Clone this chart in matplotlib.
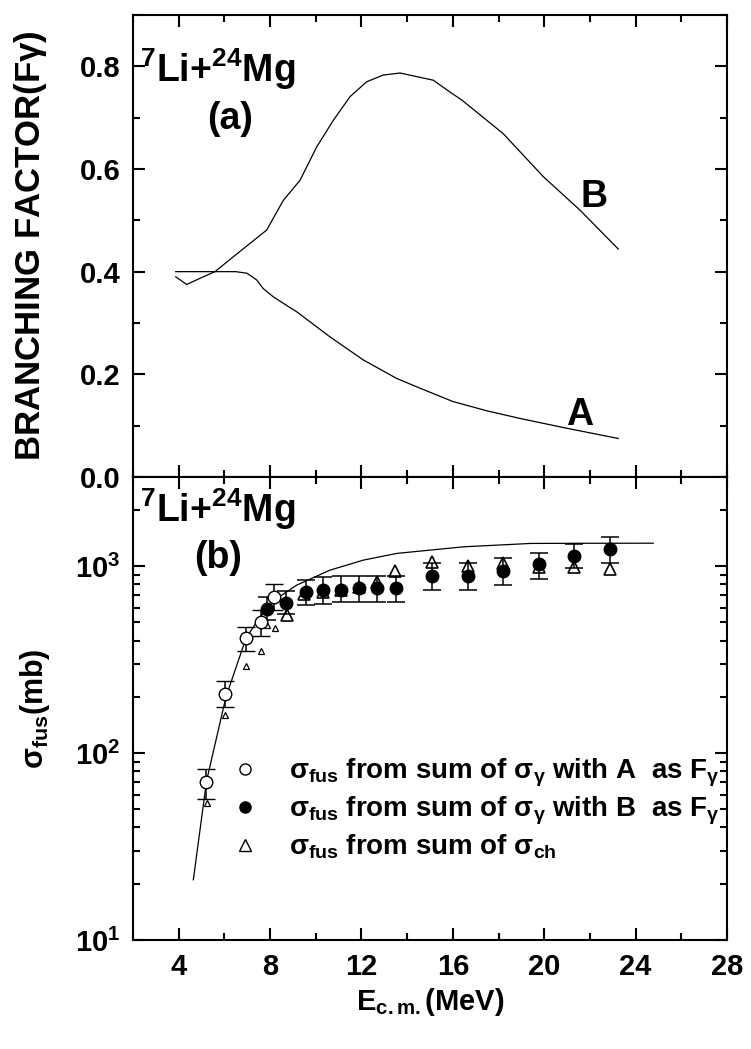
import matplotlib
matplotlib.use("Agg")
import matplotlib.pyplot as plt
from matplotlib.ticker import MultipleLocator, FixedLocator, NullFormatter, LogLocator

plt.rcParams['font.family'] = ['Liberation Sans', 'DejaVu Sans']
plt.rcParams['font.weight'] = 'bold'
plt.rcParams['mathtext.fontset'] = 'custom'
plt.rcParams['mathtext.rm'] = 'Liberation Sans'
plt.rcParams['mathtext.bf'] = 'Liberation Sans:bold'
plt.rcParams['mathtext.it'] = 'Liberation Sans:italic'
plt.rcParams['mathtext.default'] = 'bf'

# (a) branching factor curves
E_A_curve = [3.87, 4.5, 5.5, 6.5, 6.98, 7.12, 7.41, 7.70, 8.14, 8.94, 9.16, 10.62, 12.08,
             13.54, 14.56, 16.0, 17.48, 18.94, 20.98, 23.24]
F_A_curve = [0.400, 0.400, 0.400, 0.400, 0.397, 0.393, 0.384, 0.367, 0.351, 0.328, 0.322,
             0.273, 0.228, 0.192, 0.173, 0.147, 0.129, 0.114, 0.095, 0.075]

E_B_curve = [3.87, 4.35, 4.93, 5.59, 6.39, 7.12, 7.85, 8.58, 9.31, 10.04, 10.77, 11.5,
             12.23, 12.95, 13.69, 15.14, 15.87, 16.4, 18.2, 19.96, 21.56, 23.24]
F_B_curve = [0.390, 0.375, 0.387, 0.400, 0.429, 0.455, 0.481, 0.539, 0.578, 0.643, 0.695,
             0.741, 0.770, 0.783, 0.787, 0.773, 0.750, 0.734, 0.669, 0.585, 0.520, 0.444]

# (b) fusion cross sections (mb)
E_A = [5.2, 6.03, 6.95, 7.59, 8.17]
sig_A = [70, 208, 413, 503, 685]
sig_A_lo = [13, 32, 63, 79, 104]
sig_A_hi = [12, 34, 60, 78, 115]

E_B = [7.88, 8.70, 9.56, 10.33, 11.10, 11.88, 12.66, 13.50, 15.07, 16.65, 18.18, 19.78,
       21.31, 22.88]
sig_B = [593, 638, 728, 744, 750, 760, 760, 765, 884, 884, 940, 1021, 1131, 1233]
sig_B_lo = [80, 80, 110, 113, 106, 115, 115, 121, 140, 140, 150, 169, 156, 199]
sig_B_hi = [92, 97, 113, 126, 134, 130, 130, 122, 156, 156, 160, 157, 180, 202]

E_ch = [5.22, 6.03, 6.95, 7.59, 7.88, 8.21, 8.75, 9.48, 10.3, 11.1, 11.88, 12.66, 13.47,
        15.07, 16.65, 18.18, 19.78, 21.31, 22.88]
sig_ch = [54, 159, 291, 352, 487, 469, 547, 714, 723, 750, 775, 824, 944, 1055, 1000,
          1034, 992, 984, 960]

E_fus = [4.64, 5.22, 6.07, 6.95, 7.56, 8.29, 9.16, 10.62, 12.08, 13.54, 16.46, 19.4,
         22.0, 24.77]
sig_fus = [21, 71, 200, 413, 535, 671, 791, 952, 1077, 1170, 1269, 1323, 1326, 1327]

xticks = [4, 8, 12, 16, 20, 24, 28]

fig = plt.figure(figsize=(7.51, 10.49), dpi=100)
ax1 = fig.add_axes([0.1771, 0.5453, 0.7910, 0.4404])
ax2 = fig.add_axes([0.1771, 0.1039, 0.7910, 0.4414], sharex=ax1)

for ax in (ax1, ax2):
    for s in ax.spines.values():
        s.set_linewidth(1.5)
    ax.tick_params(which='both', direction='in', top=True, right=True, width=1.5,
                   labelsize=21, pad=9)
    ax.tick_params(which='major', length=8.5)
    ax.tick_params(which='minor', length=5)

# top panel
ax1.plot(E_A_curve, F_A_curve, color='black', lw=0.9)
ax1.plot(E_B_curve, F_B_curve, color='black', lw=0.9)
ax1.set_ylim(0, 0.9)
ax1.yaxis.set_major_locator(FixedLocator([0.0, 0.2, 0.4, 0.6, 0.8]))
ax1.yaxis.set_minor_locator(MultipleLocator(0.1))
ax1.set_yticklabels(['0.0', '0.2', '0.4', '0.6', '0.8'], fontweight='bold')
ax1.tick_params(labelbottom=False)
ax1.set_ylabel('BRANCHING FACTOR(F$\\mathrm{\\gamma}$)', fontsize=25, fontweight='bold',
               va='center', ha='center')
ax1.yaxis.set_label_coords(-0.173, 0.5)
ax1.text(0.012, 0.855, '$^{7}$Li+$^{24}$Mg', transform=ax1.transAxes, fontsize=27,
         fontweight='bold', va='baseline', ha='left')
ax1.text(0.163, 0.775, '(a)', transform=ax1.transAxes, fontsize=27, fontweight='bold',
         va='center', ha='center')
ax1.text(0.776, 0.605, 'B', transform=ax1.transAxes, fontsize=27, fontweight='bold',
         va='center', ha='center')
ax1.text(0.751, 0.134, 'A', transform=ax1.transAxes, fontsize=27, fontweight='bold',
         va='center', ha='center')

# bottom panel
ax2.set_yscale('log')
ax2.plot(E_fus, sig_fus, color='black', lw=0.9)
n_small = 6
ax2.plot(E_ch[:n_small], sig_ch[:n_small], ls='none', marker='^', ms=5,
         mfc='white', mec='black', mew=0.9)
ax2.plot(E_ch[n_small:], sig_ch[n_small:], ls='none', marker='^', ms=9,
         mfc='white', mec='black', mew=1.2)
ax2.errorbar(E_B, sig_B, yerr=[sig_B_lo, sig_B_hi], fmt='o', ms=9, mfc='black',
             mec='black', ecolor='black', elinewidth=1.1, capsize=6.5, capthick=1.1)
ax2.errorbar(E_A, sig_A, yerr=[sig_A_lo, sig_A_hi], fmt='o', ms=9, mfc='white',
             mec='black', mew=1.0, ecolor='black', elinewidth=1.1, capsize=6.5, capthick=1.1)

h1, = ax2.plot([], [], ls='none', marker='o', ms=8, mfc='white', mec='black', mew=1.0)
h2, = ax2.plot([], [], ls='none', marker='o', ms=8, mfc='black', mec='black')
h3, = ax2.plot([], [], ls='none', marker='^', ms=8, mfc='white', mec='black', mew=1.0)
ax2.legend([h1, h2, h3],
           ['$\\mathrm{\\sigma}_{fus}$ from sum of $\\mathrm{\\sigma}_{\\mathrm{\\gamma}}$ with A  as F$_{\\mathrm{\\gamma}}$',
            '$\\mathrm{\\sigma}_{fus}$ from sum of $\\mathrm{\\sigma}_{\\mathrm{\\gamma}}$ with B  as F$_{\\mathrm{\\gamma}}$',
            '$\\mathrm{\\sigma}_{fus}$ from sum of $\\mathrm{\\sigma}_{ch}$'],
           loc='upper left', bbox_to_anchor=(0.165, 0.395), frameon=False,
           prop={'size': 20, 'weight': 'bold'}, handlelength=1.0, handletextpad=1.1,
           labelspacing=0.2, borderpad=0, borderaxespad=0)

ax2.set_ylim(10, 3000)
ax2.yaxis.set_major_locator(FixedLocator([10, 100, 1000]))
ax2.set_yticklabels(['$10^{1}$', '$10^{2}$', '$10^{3}$'])
ax2.yaxis.set_minor_locator(LogLocator(base=10, subs=range(2, 10)))
ax2.yaxis.set_minor_formatter(NullFormatter())
ax2.set_xlim(2, 28)
ax2.xaxis.set_major_locator(FixedLocator(xticks))
ax2.xaxis.set_minor_locator(MultipleLocator(2))
ax2.set_xticklabels([str(t) for t in xticks], fontweight='bold')
ax2.set_ylabel('$\\mathrm{\\sigma}_{fus}$(mb)', fontsize=22, fontweight='bold',
               va='center', ha='center')
ax2.yaxis.set_label_coords(-0.165, 0.5)
ax2.set_xlabel('E$_{c.m.}$(MeV)', fontsize=21, fontweight='bold')
ax2.xaxis.set_label_coords(0.5, -0.10)
ax2.text(0.012, 0.903, '$^{7}$Li+$^{24}$Mg', transform=ax2.transAxes, fontsize=27,
         fontweight='bold', va='baseline', ha='left')
ax2.text(0.143, 0.825, '(b)', transform=ax2.transAxes, fontsize=27, fontweight='bold',
         va='center', ha='center')

fig.savefig('out.png', dpi=100)
